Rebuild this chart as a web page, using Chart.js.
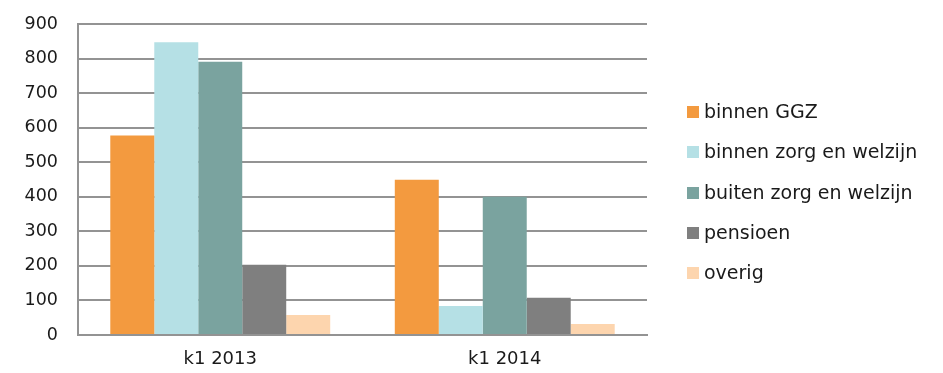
<!DOCTYPE html>
<html>
<head>
<meta charset="utf-8">
<script src="https://cdn.jsdelivr.net/npm/chart.js@4"></script>
<style>
  body { margin: 0; background: #fff; }
  #wrap { position: relative; width: 943px; height: 373px; }
  #legend {
    position: absolute; left: 687px; top: 99px;
    font: 19px "DejaVu Sans", sans-serif; color: #1a1a1a;
  }
  #legend div { height: 40.3px; line-height: 24px; white-space: nowrap; }
  #legend span.box {
    display: inline-block; width: 12px; height: 12px;
    margin-right: 5px; vertical-align: 0px;
  }
</style>
</head>
<body>
<div id="wrap">
  <canvas id="uitstroomChart" width="943" height="373"></canvas>
  <div id="legend"></div>
</div>
<script>
const labels = ["k1 2013", "k1 2014"];
const binnenGGZ = [577, 449];
const binnenZorg = [847, 84];
const buitenZorg = [791, 400];
const pensioen = [203, 108];
const overig = [58, 32];
const yTicks = [0, 100, 200, 300, 400, 500, 600, 700, 800, 900];

const gridColor = "#939393";

const data = {
  labels: labels,
  datasets: [
    { label: "binnen GGZ", data: binnenGGZ, backgroundColor: "#f39a3f" },
    { label: "binnen zorg en welzijn", data: binnenZorg, backgroundColor: "#b5e0e5" },
    { label: "buiten zorg en welzijn", data: buitenZorg, backgroundColor: "#7aa39f" },
    { label: "pensioen", data: pensioen, backgroundColor: "#7f7f7f" },
    { label: "overig", data: overig, backgroundColor: "#fdd5ae" },
  ],
};

Chart.defaults.font.family = "'DejaVu Sans', sans-serif";
Chart.defaults.color = "#1a1a1a";

const config = {
  type: "bar",
  data: data,
  options: {
    responsive: false,
    animation: false,
    categoryPercentage: 0.773,
    barPercentage: 1,
    layout: {
      autoPadding: false,
      padding: { top: 24, left: 5, right: 296, bottom: 0 },
    },
    plugins: {
      legend: { display: false },
      tooltip: { enabled: false },
    },
    scales: {
      x: {
        grid: { display: false, drawTicks: false },
        border: { color: gridColor, width: 2 },
        ticks: { padding: 14, font: { size: 18 } },
        afterFit: (scale) => {
          scale.height = 38;
        },
      },
      y: {
        min: 0,
        max: 900,
        afterBuildTicks: (axis) => {
          axis.ticks = yTicks.map((v) => ({ value: v }));
        },
        grid: { color: gridColor, lineWidth: 2, drawTicks: false },
        border: { color: gridColor, width: 2 },
        ticks: { padding: 20, font: { size: 17.5 } },
        afterFit: (scale) => {
          // keep the axis at x=78 and the top gridline at y=24
          scale.width = 73;
          scale.paddingTop = 10;
          scale.paddingBottom = 10;
        },
      },
    },
  },
};

let myChart = new Chart(document.getElementById("uitstroomChart"), config);

// legend as html, built from the datasets
const legendEl = document.getElementById("legend");
myChart.data.datasets.forEach((ds) => {
  const row = document.createElement("div");
  const box = document.createElement("span");
  box.className = "box";
  box.style.background = ds.backgroundColor;
  row.appendChild(box);
  row.appendChild(document.createTextNode(ds.label));
  legendEl.appendChild(row);
});
</script>
</body>
</html>
